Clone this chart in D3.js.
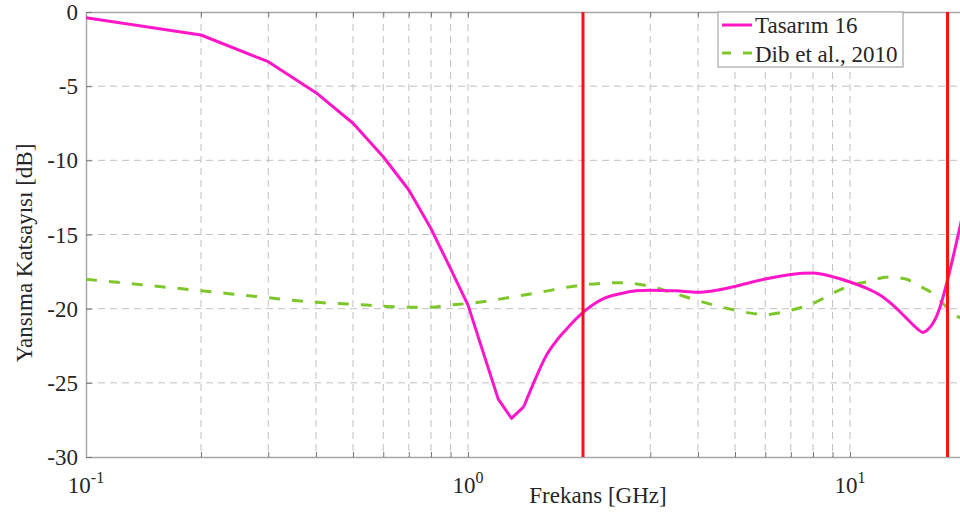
<!DOCTYPE html>
<html>
<head>
<meta charset="utf-8">
<script src="https://cdn.jsdelivr.net/npm/d3@7"></script>
<style>
  html, body { margin: 0; padding: 0; background: #ffffff; overflow: hidden; }
  svg { display: block; font-family: "Liberation Serif", "Times New Roman", serif; }
</style>
</head>
<body>
<svg id="chart" width="960" height="518"></svg>
<script>
// ---- data ----
const freqTasarim = [0.1, 0.2, 0.3, 0.4, 0.5, 0.6, 0.7, 0.8, 0.9, 1.0, 1.2, 1.3, 1.4, 1.5, 1.6, 1.7, 1.8, 1.9, 2.0, 2.25, 2.5, 2.75, 3.0, 3.5, 4.0, 4.5, 5.0, 6.0, 7.0, 8.0, 9.0, 10, 11, 12, 13, 14, 15, 15.5, 16, 16.5, 17.2, 18, 19.4, 20];
const valTasarim  = [-0.38, -1.55, -3.35, -5.44, -7.5, -9.76, -12.0, -14.6, -17.3, -19.76, -26.1, -27.4, -26.6, -24.75, -23.2, -22.2, -21.45, -20.8, -20.25, -19.35, -19.0, -18.8, -18.75, -18.8, -18.9, -18.75, -18.5, -18.0, -17.7, -17.6, -17.85, -18.2, -18.6, -19.1, -19.8, -20.6, -21.35, -21.6, -21.4, -20.97, -19.9, -18.07, -14.5, -13.0];
// Tasarım 16 is drawn with straight segments up to this frequency, smooth after it
const tasarimSmoothFrom = 1.4;

const freqDib = [0.1, 0.2, 0.3, 0.4, 0.5, 0.6, 0.7, 0.8, 0.9, 1.0, 1.5, 2.0, 2.5, 3.0, 3.5, 4.0, 5.0, 6.0, 7.0, 8.0, 9.0, 10, 11, 12.6, 14, 15, 16.3, 18, 19.2, 20];
const valDib  = [-18.02, -18.79, -19.26, -19.57, -19.7, -19.83, -19.9, -19.9, -19.75, -19.65, -18.95, -18.4, -18.25, -18.5, -19.0, -19.46, -20.1, -20.4, -20.1, -19.65, -18.97, -18.45, -18.2, -17.87, -18.0, -18.4, -18.9, -19.95, -20.55, -20.7];

const markerFreqs = [2, 18];
const xMajorTicks = [0.1, 1, 10];
const xMinorTicks = [0.2, 0.3, 0.4, 0.5, 0.6, 0.7, 0.8, 0.9, 2, 3, 4, 5, 6, 7, 8, 9, 20];
const xTickExponents = ["-1", "0", "1"];
const yTicks = [-30, -25, -20, -15, -10, -5, 0];
const seriesNames = ["Tasarım 16", "Dib et al., 2010"];
const xLabel = "Frekans [GHz]";
const yLabel = "Yansıma Katsayısı [dB]";

// ---- layout ----
const plotL = 86, plotR = 965, plotT = 12, plotB = 457;
const svg = d3.select("#chart");
const x = d3.scaleLog().domain([0.1, 20]).range([plotL, plotR]);
const y = d3.scaleLinear().domain([-30, 0]).range([plotB, plotT]);

const txtColor = "#262626";
const axisColor = "#a6a6a6";
const gridColor = "#c0c0c0";
const fs = 23;

svg.append("defs").append("clipPath").attr("id", "clip")
  .append("rect").attr("x", plotL).attr("y", plotT).attr("width", plotR - plotL).attr("height", plotB - plotT);

// grid
const grid = svg.append("g");
grid.selectAll("line.vg").data(xMajorTicks.concat(xMinorTicks).filter(d => d > 0.1))
  .join("line").attr("class", "vg")
  .attr("x1", d => x(d)).attr("x2", d => x(d))
  .attr("y1", plotT).attr("y2", plotB)
  .attr("stroke", gridColor).attr("stroke-width", 1).attr("stroke-dasharray", "7,5");
grid.selectAll("line.hg").data(yTicks.filter(d => d > -30 && d < 0))
  .join("line").attr("class", "hg")
  .attr("x1", plotL).attr("x2", plotR)
  .attr("y1", d => y(d)).attr("y2", d => y(d))
  .attr("stroke", gridColor).attr("stroke-width", 1).attr("stroke-dasharray", "7,5");

// axes (inward ticks)
const allX = xMajorTicks.concat(xMinorTicks);
const xAxisB = d3.axisBottom(x).tickValues(allX).tickSizeInner(-5).tickSizeOuter(0).tickFormat("");
const gxb = svg.append("g").attr("transform", `translate(0,${plotB})`).call(xAxisB);
const xAxisT = d3.axisTop(x).tickValues(allX).tickSizeInner(-5).tickSizeOuter(0).tickFormat("");
const gxt = svg.append("g").attr("transform", `translate(0,${plotT})`).call(xAxisT);
const yAxis = d3.axisLeft(y).tickValues(yTicks).tickSizeInner(-6).tickSizeOuter(0).tickFormat("");
const gy = svg.append("g").attr("transform", `translate(${plotL},0)`).call(yAxis);
[gxb, gxt, gy].forEach(g => {
  g.select(".domain").attr("stroke", axisColor).attr("stroke-width", 1.5);
  g.selectAll(".tick line").attr("stroke", "#777").attr("stroke-width", 1);
});

// x tick labels 10^n
xMajorTicks.forEach((t, i) => {
  const tx = svg.append("text").attr("x", x(t)).attr("y", 493)
    .attr("text-anchor", "middle").attr("fill", txtColor).attr("font-size", fs);
  tx.append("tspan").text("10");
  tx.append("tspan").attr("dy", -10).attr("font-size", 16).text(xTickExponents[i]);
});

// y tick labels
svg.append("g").selectAll("text").data(yTicks).join("text")
  .attr("x", 78).attr("y", d => y(d) + 8)
  .attr("text-anchor", "end").attr("fill", txtColor).attr("font-size", fs)
  .text(d => d === 0 ? "0" : String(d));

// axis labels
svg.append("text").attr("x", 598).attr("y", 503).attr("text-anchor", "middle")
  .attr("fill", txtColor).attr("font-size", fs).text(xLabel);
svg.append("text").attr("transform", "translate(32,253) rotate(-90)").attr("text-anchor", "middle")
  .attr("fill", txtColor).attr("font-size", fs).text(yLabel);

// series
const plotG = svg.append("g").attr("clip-path", "url(#clip)");
const lineSmooth = d3.line().x(d => x(d[0])).y(d => y(d[1])).curve(d3.curveMonotoneX);
const lineStraight = d3.line().x(d => x(d[0])).y(d => y(d[1])).curve(d3.curveLinear);
const dibData = freqDib.map((f, i) => [f, valDib[i]]);
const tasData = freqTasarim.map((f, i) => [f, valTasarim[i]]);

plotG.append("path").datum(dibData).attr("d", lineSmooth)
  .attr("fill", "none").attr("stroke", "#7ec72b").attr("stroke-width", 3)
  .attr("stroke-dasharray", "11,12");

const pink = "#ff16c8";
plotG.append("path").datum(tasData.filter(d => d[0] <= tasarimSmoothFrom)).attr("d", lineStraight)
  .attr("fill", "none").attr("stroke", pink).attr("stroke-width", 3).attr("stroke-linejoin", "round");
plotG.append("path").datum(tasData.filter(d => d[0] >= tasarimSmoothFrom)).attr("d", lineSmooth)
  .attr("fill", "none").attr("stroke", pink).attr("stroke-width", 3).attr("stroke-linejoin", "round");

// red markers
plotG.selectAll("line.mk").data(markerFreqs).join("line").attr("class", "mk")
  .attr("x1", d => x(d)).attr("x2", d => x(d)).attr("y1", plotT).attr("y2", plotB)
  .attr("stroke", "#ff1010").attr("stroke-width", 3);

// legend
const lg = svg.append("g");
lg.append("rect").attr("x", 718).attr("y", 12).attr("width", 185).attr("height", 55)
  .attr("fill", "#ffffff").attr("stroke", axisColor).attr("stroke-width", 1.2);
lg.append("line").attr("x1", 722).attr("x2", 752).attr("y1", 25).attr("y2", 25)
  .attr("stroke", pink).attr("stroke-width", 3);
lg.append("line").attr("x1", 722).attr("x2", 752).attr("y1", 53).attr("y2", 53)
  .attr("stroke", "#7ec72b").attr("stroke-width", 3).attr("stroke-dasharray", "9,12");
lg.append("text").attr("x", 755).attr("y", 33).attr("fill", txtColor).attr("font-size", fs).text(seriesNames[0]);
lg.append("text").attr("x", 755).attr("y", 62).attr("fill", txtColor).attr("font-size", fs).text(seriesNames[1]);
</script>
</body>
</html>
